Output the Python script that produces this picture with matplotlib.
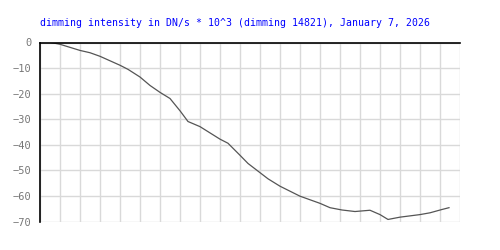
import matplotlib
matplotlib.use("Agg")
import matplotlib.pyplot as plt
import numpy as np

title = "dimming intensity in DN/s * 10^3 (dimming 14821), January 7, 2026"
x = [0.55, 1.0, 2.0, 2.5, 3.0, 4.0, 4.4, 5.0, 5.5, 6.0, 6.5, 7.0, 7.4, 8.0, 9.0,
     9.4, 10.0, 10.4, 11.0, 11.4, 12.0, 13.0, 14.0, 14.5, 15.1, 15.75, 16.5,
     17.0, 17.4, 18.0, 19.0, 19.5, 20.1, 20.45]
y = [0.0, -0.7, -3.1, -4.0, -5.4, -8.9, -10.5, -13.5, -16.8, -19.5, -21.9, -26.7,
     -30.9, -32.9, -37.8, -39.4, -44.1, -47.3, -50.9, -53.3, -56.2, -60.1, -62.9,
     -64.6, -65.5, -66.1, -65.6, -67.3, -69.2, -68.3, -67.3, -66.6, -65.3, -64.6]
yticks = [0, -10, -20, -30, -40, -50, -60, -70]

fig = plt.figure(figsize=(5, 2.5), dpi=100)
ax = fig.add_axes([0.08, 0.114, 0.84, 0.716])
ax.plot(x, y, color="#555555", lw=0.9)
ax.set_xlim(0, 21)
ax.set_ylim(-70, 0)
ax.set_xticks(np.arange(0, 22, 1))
ax.set_yticks(yticks)
ax.set_yticklabels([str(v).replace("-", "\u2212") for v in yticks],
                   family="DejaVu Sans Mono", fontsize=7.5, color="#777777")
ax.tick_params(axis="x", length=0, labelbottom=False)
ax.tick_params(axis="y", length=0, pad=6)
ax.grid(True, color="#d9d9d9", lw=1)
ax.set_axisbelow(True)
for s in ["bottom", "right"]:
    ax.spines[s].set_visible(False)
for s in ["left", "top"]:
    ax.spines[s].set_color("black")
    ax.spines[s].set_linewidth(1.2)
fig.text(0.08, 0.91, title, family="DejaVu Sans Mono", fontsize=7.1,
         color="#0000ff", ha="left", va="center")
fig.savefig("out.png", dpi=100, facecolor="white")
